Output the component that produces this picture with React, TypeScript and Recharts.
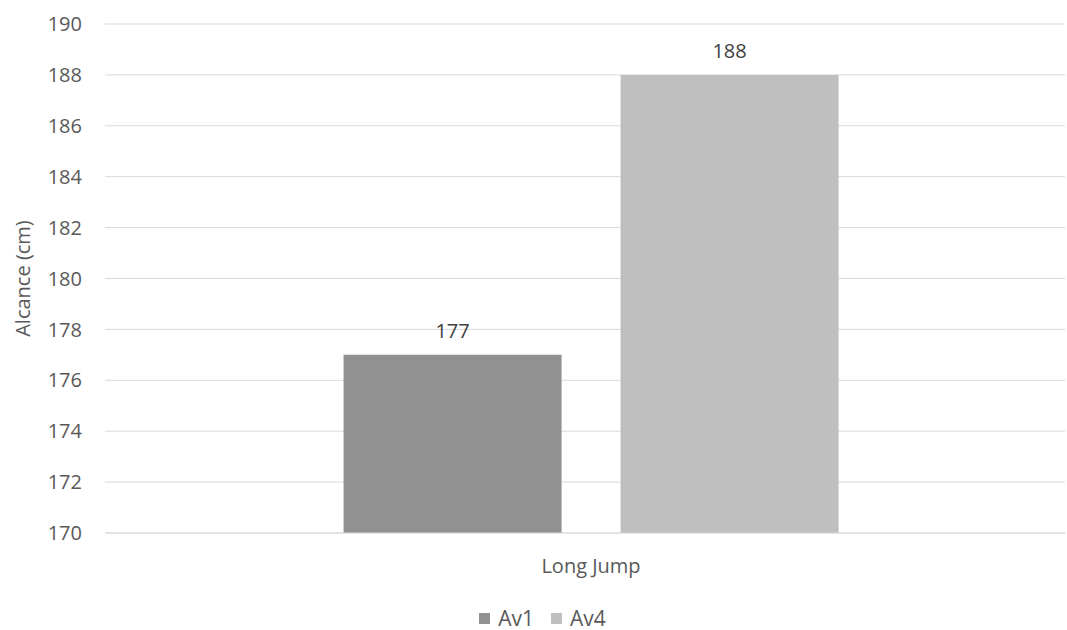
import { Bar, BarChart, CartesianGrid, LabelList, Legend, XAxis, YAxis } from "recharts";

const categories = ["Long Jump"];
const av1 = [177];
const av4 = [188];
const yTicks = [170, 172, 174, 176, 178, 180, 182, 184, 186, 188, 190];

const data = categories.map((name, i) => ({ name, Av1: av1[i], Av4: av4[i] }));

const FONT = "'Open Sans', 'Liberation Sans', sans-serif";
const TEXT = "#595959";
const SERIES = [
  { key: "Av1", color: "#919191" },
  { key: "Av4", color: "#bfbfbf" },
];

// Square swatch + name, laid out like an office-style legend
function LegendRow() {
  return (
    <div
      style={{
        display: "flex",
        justifyContent: "center",
        gap: 17,
        fontSize: 21,
        color: TEXT,
        lineHeight: "24px",
        paddingLeft: 20,
      }}
    >
      {SERIES.map((s) => (
        <span key={s.key} style={{ display: "inline-flex", alignItems: "center", gap: 8 }}>
          <span style={{ width: 11, height: 11, background: s.color, display: "inline-block" }} />
          {s.key}
        </span>
      ))}
    </div>
  );
}

export default function App() {
  return (
    <div style={{ position: "absolute", left: 0, top: 0, background: "#fff" }}>
      <BarChart
        width={1067}
        height={630}
        data={data}
        margin={{ top: 24, right: 2, bottom: 0, left: 0 }}
        barCategoryGap="23.9%"
        barGap={59}
        style={{ fontFamily: FONT }}
      >
        <CartesianGrid vertical={false} stroke="#d9d9d9" strokeWidth={1} />
        <XAxis
          dataKey="name"
          axisLine={{ stroke: "#d9d9d9" }}
          tickLine={false}
          tickMargin={20}
          height={62}
          padding={{ left: 12, right: 0 }}
          tick={{ fill: TEXT, fontSize: 20 }}
        />
        <YAxis
          domain={[170, 190]}
          ticks={yTicks}
          allowDataOverflow
          axisLine={false}
          tickLine={false}
          tickSize={0}
          tickMargin={23}
          width={105}
          tick={{ fill: TEXT, fontSize: 20 }}
          label={{
            value: "Alcance (cm)",
            angle: -90,
            position: "insideLeft",
            offset: 23,
            style: { fill: TEXT, fontSize: 20, textAnchor: "middle" },
          }}
        />
        <Legend
          verticalAlign="bottom"
          height={35}
          content={() => <LegendRow />}
          wrapperStyle={{ bottom: -11 }}
        />
        {SERIES.map((s) => (
          <Bar key={s.key} dataKey={s.key} fill={s.color} isAnimationActive={false}>
            <LabelList dataKey={s.key} position="top" offset={17} fill="#404040" fontSize={20} />
          </Bar>
        ))}
      </BarChart>
    </div>
  );
}
